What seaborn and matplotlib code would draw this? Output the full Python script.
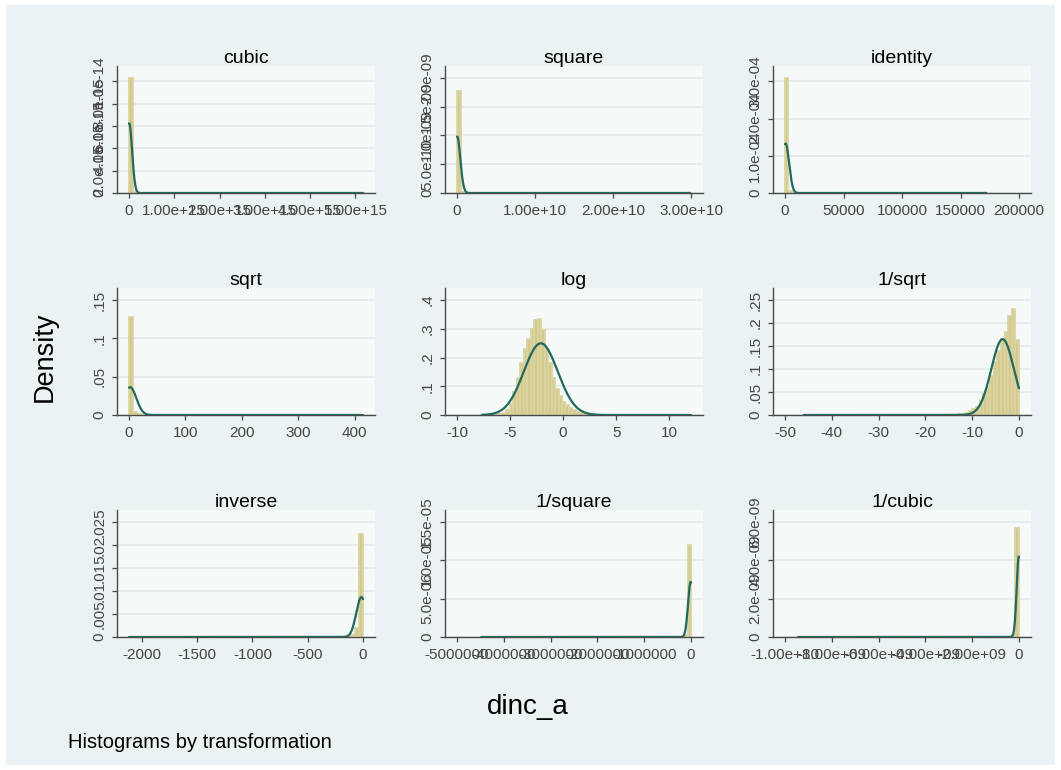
import numpy as np
import pandas as pd
import matplotlib
matplotlib.use("Agg")
import matplotlib.pyplot as plt
from matplotlib.patches import Rectangle
import seaborn as sns

# ---------------- data ----------------
panels = ["cubic", "square", "identity", "sqrt", "log", "1/sqrt", "inverse", "1/square", "1/cubic"]
n_bins = 60

data_min = [0.0, 0.0, 0.00047, 0.0217, -7.66, -46.0, -2116.0, -4.48e6, -9.44e9]
data_max = [5.17e15, 2.99e10, 172000.0, 414.7, 12.06, -0.0024, -0.0058, -3.4e-11, -2e-16]

# histogram densities, bin by bin (60 bins, from data_min to data_max)
hist_cubic = [1.03e-14, 1.5e-16] + [0.0] * 58
hist_square = [1.78e-9, 2.5e-11] + [0.0] * 58
hist_identity = [3.09e-4, 5e-6] + [0.0] * 58
hist_sqrt = [0.128, 0.004, 0.001] + [0.0] * 57
hist_log = [0.0, 0.0, 0.0, 0.001, 0.002, 0.003, 0.008, 0.017, 0.04, 0.08,
            0.13, 0.18, 0.23, 0.265, 0.30, 0.33, 0.335, 0.295, 0.23, 0.18,
            0.13, 0.09, 0.065, 0.045, 0.034, 0.025, 0.017, 0.011, 0.007, 0.003,
            0.002, 0.001] + [0.0] * 28
hist_inv_sqrt = [0.0] * 42 + [0.001, 0.002, 0.003, 0.005, 0.008, 0.012, 0.018, 0.03,
                              0.045, 0.06, 0.085, 0.115, 0.14, 0.165, 0.18, 0.215,
                              0.231, 0.163]
hist_inverse = [0.0] * 57 + [0.0005, 0.002, 0.0225]
hist_inv_square = [0.0] * 58 + [2e-7, 1.2e-5]
hist_inv_cubic = [0.0] * 58 + [1e-10, 5.7e-9]
hist_all = [hist_cubic, hist_square, hist_identity, hist_sqrt, hist_log,
            hist_inv_sqrt, hist_inverse, hist_inv_square, hist_inv_cubic]

# normal density overlay parameters (mean, sd) of each transformed variable
norm_mean = [5e12, 2e7, 500.0, 2.0, -2.1, -3.5, -15.0, -8000.0, -5e6]
norm_sd = [6.4e13, 4.07e8, 3000.0, 11.0, 1.6, 2.42, 46.0, 55500.0, 9.5e7]

xticks = [
    [0, 1e15, 2e15, 3e15, 4e15, 5e15],
    [0, 1e10, 2e10, 3e10],
    [0, 50000, 100000, 150000, 200000],
    [0, 100, 200, 300, 400],
    [-10, -5, 0, 5, 10],
    [-50, -40, -30, -20, -10, 0],
    [-2000, -1500, -1000, -500, 0],
    [-5e6, -4e6, -3e6, -2e6, -1e6, 0],
    [-1e10, -8e9, -6e9, -4e9, -2e9, 0],
]
xticklabels = [
    ["0", "1.00e+15", "2.00e+15", "3.00e+15", "4.00e+15", "5.00e+15"],
    ["0", "1.00e+10", "2.00e+10", "3.00e+10"],
    ["0", "50000", "100000", "150000", "200000"],
    ["0", "100", "200", "300", "400"],
    ["-10", "-5", "0", "5", "10"],
    ["-50", "-40", "-30", "-20", "-10", "0"],
    ["-2000", "-1500", "-1000", "-500", "0"],
    ["-5000000", "-4000000", "-3000000", "-2000000", "-1000000", "0"],
    ["-1.00e+10", "-8.00e+09", "-6.00e+09", "-4.00e+09", "-2.00e+09", "0"],
]
yticks = [
    [0, 2e-15, 4e-15, 6e-15, 8e-15, 1e-14],
    [0, 5e-10, 1e-9, 1.5e-9, 2e-9],
    [0, 1e-4, 2e-4, 3e-4],
    [0, 0.05, 0.1, 0.15],
    [0, 0.1, 0.2, 0.3, 0.4],
    [0, 0.05, 0.1, 0.15, 0.2, 0.25],
    [0, 0.005, 0.01, 0.015, 0.02, 0.025],
    [0, 5e-6, 1e-5, 1.5e-5],
    [0, 2e-9, 4e-9, 6e-9],
]
yticklabels = [
    ["0", "2.0e-15", "4.0e-15", "6.0e-15", "8.0e-15", "1.0e-14"],
    ["0", "5.0e-10", "1.0e-09", "1.5e-09", "2.0e-09"],
    ["0", "1.0e-04", "2.0e-04", "3.0e-04"],
    ["0", ".05", ".1", ".15"],
    ["0", ".1", ".2", ".3", ".4"],
    ["0", ".05", ".1", ".15", ".2", ".25"],
    ["0", ".005", ".01", ".015", ".02", ".025"],
    ["0", "5.0e-06", "1.0e-05", "1.5e-05"],
    ["0", "2.0e-09", "4.0e-09", "6.0e-09"],
]

# ---------------- style ----------------
sns.set_theme(style="white")
plt.rcParams["font.family"] = ["Liberation Sans", "DejaVu Sans"]

W, H = 1061, 770
BG_OUT = "#EAF2F3"
BG_PLOT = "#F5F9F8"
GRID = "#E3EBEC"
BAR = "#D3CA8D"
BAR_EDGE = "#DBD4A2"
CURVE = "#22695E"
AXC = "#4A4A4A"
TXT = "#454545"

fig = plt.figure(figsize=(W / 100, H / 100), dpi=100, facecolor="white")
fig.patches.append(Rectangle((6 / W, 5 / H), (W - 12) / W, (H - 10) / H,
                             transform=fig.transFigure, facecolor=BG_OUT,
                             edgecolor="none", zorder=-10))

col_left = [117, 445, 773]
row_top = [66, 288, 510]
ax_w, ax_h = 258, 127
margin_px = 12

for k, name in enumerate(panels):
    r, c = divmod(k, 3)
    ax = fig.add_axes([col_left[c] / W, 1 - (row_top[r] + ax_h) / H, ax_w / W, ax_h / H])
    ax.set_facecolor(BG_PLOT)

    lo, hi = data_min[k], data_max[k]
    edges = np.linspace(lo, hi, n_bins + 1)
    centers = 0.5 * (edges[:-1] + edges[1:])
    h = np.asarray(hist_all[k], dtype=float)
    dfh = pd.DataFrame({"x": centers, "w": h})
    sns.histplot(data=dfh, x="x", weights="w", bins=n_bins, binrange=(lo, hi),
                 stat="count", ax=ax, color=BAR, alpha=1.0,
                 edgecolor=BAR_EDGE, linewidth=1.3, zorder=2)

    xs = np.linspace(lo, hi, 1500)
    m, s = norm_mean[k], norm_sd[k]
    dens = np.exp(-0.5 * ((xs - m) / s) ** 2) / (s * np.sqrt(2 * np.pi))
    sns.lineplot(x=xs, y=dens, ax=ax, color=CURVE, linewidth=1.6,
                 estimator=None, sort=False, zorder=3)

    # axis ranges like Stata: data/tick extent plus a small margin
    xlo = min(lo, xticks[k][0])
    xhi = max(hi, xticks[k][-1])
    per = (xhi - xlo) / (ax_w - 2 * margin_px)
    ax.set_xlim(xlo - margin_px * per, xhi + margin_px * per)
    ytop = max(yticks[k][-1], h.max(), dens.max())
    ax.set_ylim(0, ytop * ax_h / (ax_h - margin_px))

    ax.set_xticks(xticks[k])
    ax.set_xticklabels(xticklabels[k])
    ax.set_yticks(yticks[k])
    ax.set_yticklabels(yticklabels[k], rotation=90, va="center")
    ax.tick_params(axis="both", which="major", direction="out", length=3.8,
                   width=0.9, color=AXC, labelsize=11, labelcolor=TXT,
                   bottom=True, left=True)
    ax.tick_params(axis="x", pad=4.0)
    ax.tick_params(axis="y", pad=4.0)

    for sp in ["top", "right"]:
        ax.spines[sp].set_visible(False)
    for sp in ["left", "bottom"]:
        ax.spines[sp].set_color(AXC)
        ax.spines[sp].set_linewidth(1.0)

    ax.yaxis.grid(True, color=GRID, linewidth=1.3, zorder=0)
    ax.xaxis.grid(False)
    ax.set_axisbelow(True)
    ax.set_xlabel("")
    ax.set_ylabel("")
    ax.set_title(name, fontsize=14, color="black", pad=2)

fig.text(45 / W, 1 - 357 / H, "Density", rotation=90, ha="center", va="center",
         fontsize=19.5, color="black")
fig.text(528 / W, 1 - 707 / H, "dinc_a", ha="center", va="center",
         fontsize=20, color="black")
fig.text(68 / W, 1 - 742 / H, "Histograms by transformation", ha="left",
         va="center", fontsize=14.5, color="black")

fig.savefig("out.png", dpi=100, facecolor=fig.get_facecolor())
